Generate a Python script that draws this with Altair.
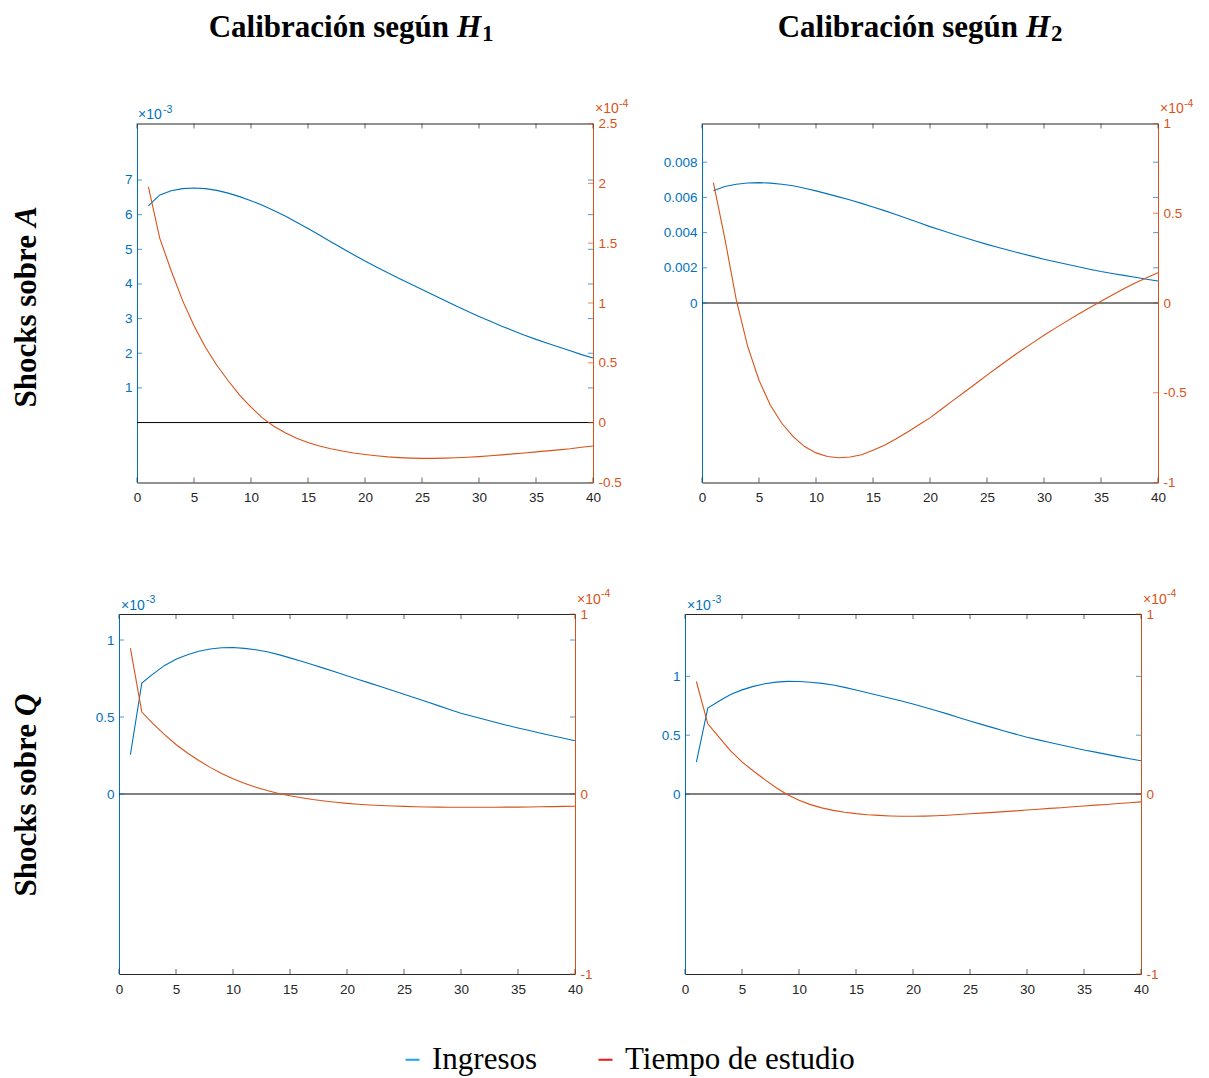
import altair as alt
import pandas as pd

# ---------------- data ----------------
periodos = list(range(1, 41))
series_names = ["Ingresos", "Tiempo de estudio"]
x_ticks = [0, 5, 10, 15, 20, 25, 30, 35, 40]

# Shocks sobre A, calibración H1  (Ingresos x1e-3, Tiempo x1e-4)
a_h1_ingresos = [6.25, 6.57, 6.69, 6.75, 6.77, 6.75, 6.70, 6.62, 6.52, 6.40,
                 6.27, 6.12, 5.96, 5.78, 5.60, 5.41, 5.22, 5.03, 4.84, 4.66,
                 4.49, 4.32, 4.16, 4.00, 3.84, 3.68, 3.52, 3.36, 3.21, 3.06,
                 2.92, 2.78, 2.65, 2.52, 2.40, 2.29, 2.18, 2.07, 1.96, 1.86]
a_h1_tiempo = [1.97, 1.54, 1.27, 1.02, 0.81, 0.63, 0.48, 0.35, 0.23, 0.13,
               0.04, -0.03, -0.085, -0.13, -0.165, -0.195, -0.218, -0.237, -0.253, -0.266,
               -0.277, -0.286, -0.292, -0.296, -0.298, -0.298, -0.296, -0.293, -0.289, -0.284,
               -0.277, -0.269, -0.261, -0.253, -0.244, -0.236, -0.227, -0.218, -0.206, -0.195]

# Shocks sobre A, calibración H2  (Ingresos plain, Tiempo x1e-4)
a_h2_ingresos = [0.00638, 0.00662, 0.00675, 0.00682, 0.00684, 0.00681, 0.00675, 0.00666, 0.00652, 0.00637,
                 0.00620, 0.00603, 0.00585, 0.00566, 0.00546, 0.00525, 0.00503, 0.00480, 0.00457, 0.00434,
                 0.00413, 0.00392, 0.00372, 0.00352, 0.00333, 0.00315, 0.00298, 0.00281, 0.00265, 0.00249,
                 0.00234, 0.00220, 0.00206, 0.00192, 0.00179, 0.00168, 0.00157, 0.00146, 0.00135, 0.00125]
a_h2_tiempo = [0.67, 0.36, 0.02, -0.24, -0.43, -0.57, -0.67, -0.745, -0.80, -0.835,
               -0.855, -0.862, -0.858, -0.845, -0.82, -0.792, -0.758, -0.72, -0.68, -0.64,
               -0.592, -0.544, -0.497, -0.45, -0.402, -0.355, -0.309, -0.265, -0.222, -0.180,
               -0.140, -0.101, -0.063, -0.026, 0.010, 0.045, 0.079, 0.111, 0.141, 0.168]

# Shocks sobre Q, calibración H1  (Ingresos x1e-3, Tiempo x1e-4)
q_h1_ingresos = [0.255, 0.72, 0.78, 0.835, 0.875, 0.905, 0.927, 0.942, 0.950, 0.951,
                 0.946, 0.937, 0.924, 0.905, 0.884, 0.862, 0.839, 0.816, 0.792, 0.768,
                 0.744, 0.720, 0.696, 0.672, 0.648, 0.624, 0.599, 0.574, 0.549, 0.525,
                 0.505, 0.485, 0.466, 0.447, 0.429, 0.412, 0.395, 0.378, 0.362, 0.346]
q_h1_tiempo = [0.81, 0.455, 0.39, 0.33, 0.275, 0.228, 0.186, 0.148, 0.114, 0.085,
               0.060, 0.038, 0.019, 0.003, -0.010, -0.021, -0.031, -0.039, -0.046, -0.052,
               -0.057, -0.061, -0.064, -0.067, -0.069, -0.071, -0.072, -0.073, -0.074, -0.074,
               -0.074, -0.074, -0.074, -0.073, -0.073, -0.072, -0.071, -0.070, -0.069, -0.068]

# Shocks sobre Q, calibración H2  (Ingresos x1e-3, Tiempo x1e-4)
q_h2_ingresos = [0.27, 0.73, 0.79, 0.845, 0.885, 0.915, 0.937, 0.951, 0.957, 0.956,
                 0.950, 0.940, 0.926, 0.906, 0.884, 0.861, 0.838, 0.814, 0.790, 0.765,
                 0.738, 0.710, 0.681, 0.651, 0.621, 0.592, 0.564, 0.536, 0.509, 0.483,
                 0.460, 0.438, 0.416, 0.395, 0.374, 0.356, 0.337, 0.318, 0.300, 0.283]
q_h2_tiempo = [0.625, 0.39, 0.315, 0.24, 0.178, 0.128, 0.080, 0.035, -0.004, -0.035,
               -0.059, -0.077, -0.091, -0.101, -0.109, -0.115, -0.119, -0.122, -0.124, -0.124,
               -0.123, -0.121, -0.118, -0.114, -0.110, -0.106, -0.102, -0.098, -0.094, -0.089,
               -0.085, -0.080, -0.076, -0.071, -0.067, -0.062, -0.058, -0.053, -0.049, -0.044]

# axis settings per panel
a_h1_left_ticks = [1, 2, 3, 4, 5, 6, 7]
a_h1_right_ticks = [-0.5, 0, 0.5, 1, 1.5, 2, 2.5]
a_h2_left_ticks = [0, 0.002, 0.004, 0.006, 0.008]
a_h2_right_ticks = [-1, -0.5, 0, 0.5, 1]
q_left_ticks = [0, 0.5, 1]
q_right_ticks = [-1, 0, 1]

col_titles = [("Calibración según", "H", "1"), ("Calibración según", "H", "2")]
row_titles = [("Shocks sobre", "A"), ("Shocks sobre", "Q")]

# ---------------- style ----------------
BLUE = "#0072BD"
ORANGE = "#D95319"
DARK = "#262626"
LEG_BLUE = "#1AA6E6"
LEG_RED = "#F01414"
SANS = "Liberation Sans"
SERIF = "Liberation Serif"
LBL = 13.5
W = 456
HYPHEN = "replace(datum.label, '\u2212', '-')"

one = pd.DataFrame({"k": [0]})


def txt(s, x, y, color, size, font=SANS, **kw):
    return alt.Chart(one).mark_text(
        text=s, color=color, fontSize=size, font=font, baseline="alphabetic", **kw
    ).encode(x=alt.value(x), y=alt.value(y))


def panel(ing, tie, h, yl_dom, yl_ticks, yr_dom, yr_ticks, left_exp, right_exp,
          exp_dx=1, title=None, title_x=320, row=None, row_x=-101, row_y=103.5, legend=False):
    df = pd.DataFrame({"t": periodos, "ing": ing, "tie": tie})
    xs = alt.Scale(domain=[0, 40], nice=False, zero=False)
    yls = alt.Scale(domain=yl_dom, nice=False, zero=False)
    yrs = alt.Scale(domain=yr_dom, nice=False, zero=False)

    blue = alt.Chart(df).mark_line(color=BLUE, strokeWidth=1.1).encode(
        x=alt.X("t:Q", scale=xs, axis=alt.Axis(
            orient="bottom", values=x_ticks, ticks=False, grid=False, title=None,
            domainColor=DARK, labelColor=DARK, labelFont=SANS, labelFontSize=LBL,
            labelPadding=8, labelFlush=False, format="d")),
        y=alt.Y("ing:Q", scale=yls, axis=alt.Axis(
            orient="left", values=yl_ticks, ticks=False, grid=False, title=None,
            domainColor=BLUE, labelColor=BLUE, labelFont=SANS, labelFontSize=LBL,
            labelPadding=5, format="~g", labelExpr=HYPHEN)),
    )
    orange = alt.Chart(df).mark_line(color=ORANGE, strokeWidth=1.1).encode(
        x=alt.X("t:Q", scale=xs, axis=alt.Axis(
            orient="top", labels=False, ticks=False, grid=False, title=None,
            domainColor=DARK)),
        y=alt.Y("tie:Q", scale=yrs, axis=alt.Axis(
            orient="right", values=yr_ticks, ticks=False, grid=False, title=None,
            domainColor=ORANGE, labelColor=ORANGE, labelFont=SANS, labelFontSize=LBL,
            labelPadding=5, format="~g", labelExpr=HYPHEN)),
    )
    zero = alt.Chart(pd.DataFrame({"y0": [0]})).mark_rule(color="black", strokeWidth=1).encode(
        y=alt.Y("y0:Q", scale=yls, axis=None))

    xt = pd.DataFrame({"xt": x_ticks})
    ylt = pd.DataFrame({"yl": yl_ticks})
    yrt = pd.DataFrame({"yr": yr_ticks})
    ticks = [
        alt.Chart(xt).mark_tick(orient="vertical", size=5, thickness=1, color=DARK).encode(
            x=alt.X("xt:Q", scale=xs, axis=None), y=alt.value(h - 2.5)),
        alt.Chart(xt).mark_tick(orient="vertical", size=5, thickness=1, color=DARK).encode(
            x=alt.X("xt:Q", scale=xs, axis=None), y=alt.value(2.5)),
        alt.Chart(ylt).mark_tick(orient="horizontal", size=5, thickness=1, color=BLUE).encode(
            y=alt.Y("yl:Q", scale=yls, axis=None), x=alt.value(2.5)),
        alt.Chart(ylt).mark_tick(orient="horizontal", size=5, thickness=1, color=BLUE).encode(
            y=alt.Y("yl:Q", scale=yls, axis=None), x=alt.value(W - 2.5)),
        alt.Chart(yrt).mark_tick(orient="horizontal", size=5, thickness=1, color=ORANGE).encode(
            y=alt.Y("yr:Q", scale=yrs, axis=None), x=alt.value(W - 2.5)),
    ]

    extras = []
    if left_exp:
        extras += [txt("×10", exp_dx, -4.5, BLUE, 14, align="left"),
                   txt(left_exp, exp_dx + 25, -11, BLUE, 10.5, align="left")]
    if right_exp:
        extras += [txt("×10", W + 2, -10.5, ORANGE, 14, align="left"),
                   txt(right_exp, W + 26, -17, ORANGE, 10.5, align="left")]
    if title:
        extras += [txt(title[0], title_x - 8, -87, "black", 31, SERIF, fontWeight="bold", align="right"),
                   txt(title[1], title_x, -87, "black", 31, SERIF, fontWeight="bold",
                       fontStyle="italic", align="left"),
                   txt(title[2], title_x + 25, -83, "black", 23, SERIF, fontWeight="bold", align="left")]
    if row:
        extras += [txt(row[0], row_x, row_y + 8, "black", 31, SERIF, fontWeight="bold",
                       angle=270, align="right"),
                   txt(row[1], row_x, row_y, "black", 31, SERIF, fontWeight="bold",
                       fontStyle="italic", angle=270, align="left")]
    if legend:
        leg_df = pd.DataFrame({"serie": series_names, "t": [0, 0], "v": [0, 0]})
        extras.append(
            alt.Chart(leg_df).transform_filter("false").mark_line(strokeWidth=2).encode(
                x=alt.X("t:Q", scale=xs, axis=None),
                y=alt.Y("v:Q", scale=yls, axis=None),
                color=alt.Color("serie:N", scale=alt.Scale(domain=series_names,
                                                           range=[LEG_BLUE, LEG_RED]),
                                legend=alt.Legend(
                                    orient="none", legendX=278, legendY=430,
                                    direction="horizontal", title=None,
                                    symbolType="stroke", symbolSize=196,
                                    symbolStrokeWidth=2, labelFont=SERIF,
                                    labelFontSize=31, labelColor="black",
                                    labelOffset=4, columnPadding=52,
                                    padding=0, labelLimit=500)))
        )

    return alt.layer(blue, zero, orange, *ticks, *extras).resolve_scale(
        y="independent").resolve_axis(x="independent", y="independent").properties(
        width=W, height=h)


p1 = panel(a_h1_ingresos, a_h1_tiempo, 359, [-1.73, 8.63], a_h1_left_ticks,
           [-0.5, 2.5], a_h1_right_ticks, "-3", "-4",
           title=col_titles[0], title_x=320, row=row_titles[0], row_x=-101, row_y=103.5)
p2 = panel(a_h2_ingresos, a_h2_tiempo, 359, [-0.0102, 0.0102], a_h2_left_ticks,
           [-1, 1], a_h2_right_ticks, None, "-4",
           title=col_titles[1], title_x=324)
p3 = panel(q_h1_ingresos, q_h1_tiempo, 360, [-1.169, 1.169], q_left_ticks,
           [-1, 1], q_right_ticks, "-3", "-4", exp_dx=2,
           row=row_titles[1], row_x=-83, row_y=102, legend=True)
p4 = panel(q_h2_ingresos, q_h2_tiempo, 360, [-1.53, 1.53], q_left_ticks,
           [-1, 1], q_right_ticks, "-3", "-4", exp_dx=2)

spacer = alt.Chart(one).mark_point(opacity=0).encode(
    x=alt.value(0), y=alt.value(0)).properties(width=18, height=359)

row1 = alt.hconcat(spacer, alt.hconcat(p1, p2, spacing=109, bounds="flush"),
                   spacing=0, bounds="flush")
row2 = alt.hconcat(p3, p4, spacing=110, bounds="flush").resolve_legend(color="independent")

chart = alt.vconcat(row1, row2, spacing=84.5).resolve_legend(color="independent").properties(
    padding={"left": 3, "top": 3.5, "right": 5, "bottom": 5}
).configure_view(stroke=None)

chart.save("out.html", embed_options={"renderer": "svg", "actions": False})
